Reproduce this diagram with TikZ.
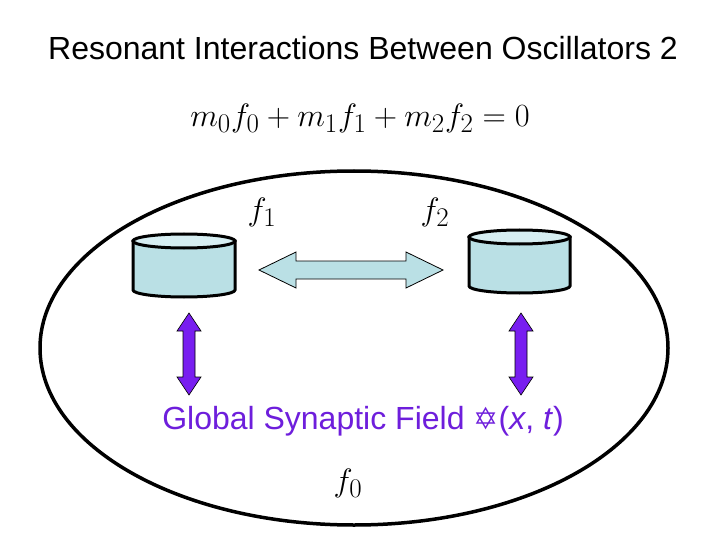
\documentclass[tikz,border=0pt]{standalone}
\usepackage{fontspec}
\setmainfont{Liberation Sans}
\newfontfamily\djv{DejaVu Sans}
\definecolor{cyl}{RGB}{186,224,229}
\definecolor{cyltop}{RGB}{214,238,242}
\definecolor{purp}{RGB}{110,30,220}
\definecolor{parrow}{RGB}{120,30,240}
\tikzset{
 cylline/.style={draw=black,line width=3pt},
 mathlbl/.style={inner sep=0pt,font=\Huge,scale=1.3,transform shape}
}
\newcommand{\mycyl}[4]{% left x, right x, top y, bottom y
 \filldraw[cylline,fill=cyl] (#1,#3) -- (#1,#4) arc[start angle=180,end angle=0,x radius={(#2-#1)/2},y radius=7] -- (#2,#3) -- cycle;
 \filldraw[cylline,fill=cyltop] ({(#1+#2)/2},#3) ellipse [x radius={(#2-#1)/2}, y radius=7];
}
\begin{document}
\begin{tikzpicture}[x=1pt,y=-1pt]
\useasboundingbox (0,0) rectangle (720,540);
\fill[white] (0,0) rectangle (720,540);
\node (title) at (363,48) {\fontsize{32}{36}\selectfont Resonant Interactions Between Oscillators 2};
\node[mathlbl] (eq) at (360,118) {$m_0 f_0 + m_1 f_1 + m_2 f_2 = 0$};
\draw[line width=3.5pt] (354,348) ellipse [x radius=314, y radius=177];
\mycyl{133}{235}{241}{290}
\mycyl{469}{570}{237}{286}
\node[inner sep=0pt,minimum width=104pt,minimum height=66pt] (c1) at (184,268) {};
\node[inner sep=0pt,minimum width=104pt,minimum height=66pt] (c2) at (519,264) {};
\node[mathlbl] (f1) at (262,212) {$f_1$};
\node[mathlbl] (f2) at (435,212) {$f_2$};
\node[mathlbl] (f0) at (348,483) {$f_0$};
\filldraw[fill=cyl,draw=black,line width=0.8pt]
 (259,270) -- (296,252) -- (296,261) -- (406,261) -- (406,252) -- (443,270)
 -- (406,288) -- (406,279) -- (296,279) -- (296,288) -- cycle;
\foreach \cx in {189,521}{
\filldraw[fill=parrow,draw=black,line width=0.6pt]
 (\cx,313) -- (\cx+12,331) -- (\cx+6,331) -- (\cx+6,377) -- (\cx+12,377) -- (\cx,395)
 -- (\cx-12,377) -- (\cx-6,377) -- (\cx-6,331) -- (\cx-12,331) -- cycle;
}
\node[text=purp] (gsf) at (363,421) {\fontsize{32}{36}\selectfont Global Synaptic Field {\djv\fontsize{30}{36}\selectfont ✡}(\textit{x}, \textit{t})};
\end{tikzpicture}
\end{document}
